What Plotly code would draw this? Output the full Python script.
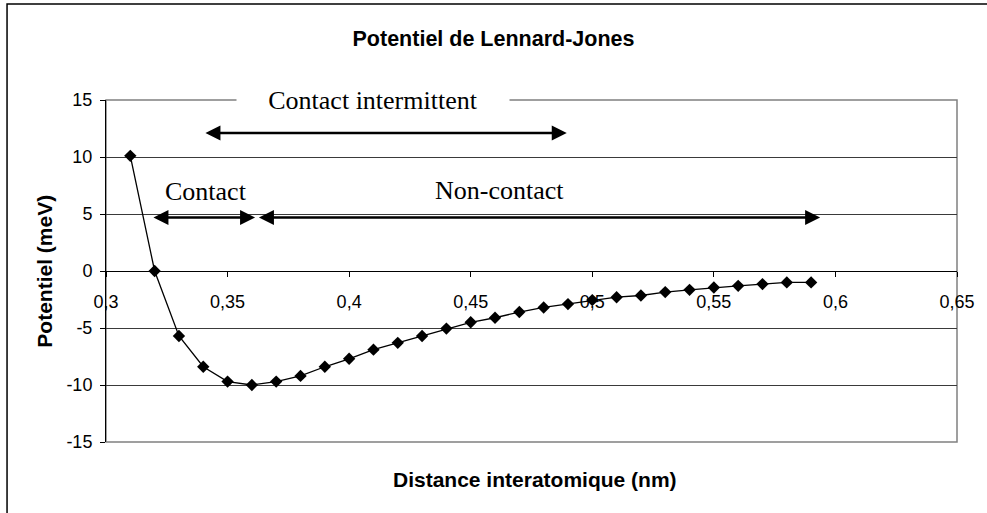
import plotly.graph_objects as go

# Lennard-Jones potential sampled every 0.01 nm
distance_nm = [0.31, 0.32, 0.33, 0.34, 0.35, 0.36, 0.37, 0.38, 0.39, 0.40,
               0.41, 0.42, 0.43, 0.44, 0.45, 0.46, 0.47, 0.48, 0.49, 0.50,
               0.51, 0.52, 0.53, 0.54, 0.55, 0.56, 0.57, 0.58, 0.59]
potential_mev = [10.1, 0.0, -5.7, -8.4, -9.7, -10.0, -9.7, -9.2, -8.4, -7.7,
                 -6.9, -6.3, -5.7, -5.05, -4.5, -4.1, -3.6, -3.2, -2.9, -2.55,
                 -2.3, -2.15, -1.85, -1.65, -1.45, -1.3, -1.15, -1.0, -1.0]

x_tick_values = [0.3, 0.35, 0.4, 0.45, 0.5, 0.55, 0.6, 0.65]
x_tick_labels = ["0,3", "0,35", "0,4", "0,45", "0,5", "0,55", "0,6", "0,65"]
y_tick_values = [-15, -10, -5, 0, 5, 10, 15]
y_tick_labels = ["-15", "-10", "-5", "0", "5", "10", "15"]

# Operating regimes of the AFM tip (distance ranges in nm)
regime_names = ["Contact", "Non-contact", "Contact intermittent"]
regime_start_nm = [0.3193, 0.3627, 0.3407]
regime_end_nm = [0.3613, 0.5937, 0.4895]
regime_arrow_mev = [4.7, 4.7, 12.1]
regime_label_nm = [0.341, 0.462, 0.4097]
regime_label_mev = [7.0, 7.1, 15.0]

SANS = "Liberation Sans, Arial, sans-serif"
SERIF = "Liberation Serif, Times New Roman, serif"

fig = go.Figure()
fig.add_trace(go.Scatter(
    x=distance_nm, y=potential_mev,
    mode="lines+markers",
    line=dict(color="black", width=1.3),
    marker=dict(symbol="diamond", size=9.5, color="black"),
    showlegend=False,
    cliponaxis=False,
))

annotations = []
for name, x0, x1, ya, lx, ly in zip(regime_names, regime_start_nm, regime_end_nm,
                                    regime_arrow_mev, regime_label_nm, regime_label_mev):
    # double-headed arrow spanning the regime
    annotations.append(dict(
        x=x1, y=ya, ax=x0, ay=ya, xref="x", yref="y", axref="x", ayref="y",
        text="", showarrow=True, arrowhead=2, startarrowhead=2,
        arrowside="end+start", arrowwidth=2.5, arrowsize=1.2, startarrowsize=1.2,
        arrowcolor="black", standoff=0, startstandoff=0, borderpad=0,
    ))
    label = dict(
        x=lx, y=ly, xref="x", yref="y", text=name, showarrow=False,
        font=dict(family=SERIF, size=26, color="black"),
        xanchor="center", yanchor="middle",
    )
    if name == "Contact intermittent":
        label.update(bgcolor="white", width=268, borderpad=2)
    annotations.append(label)

# axis titles
annotations.append(dict(
    x=0.5 + 4 / 860, y=(442 - 479) / 342, xref="paper", yref="paper",
    text="Distance interatomique (nm)", showarrow=False,
    font=dict(family=SANS, size=21, color="black", weight=700),
    xanchor="center", yanchor="middle",
))
annotations.append(dict(
    x=(43 - 106) / 860, y=0.5, xref="paper", yref="paper",
    text="Potentiel (meV)", showarrow=False, textangle=-90,
    font=dict(family=SANS, size=21, color="black", weight=700),
    xanchor="center", yanchor="middle",
))

shapes = [
    # plot area frame
    dict(type="rect", xref="paper", yref="paper", x0=0, x1=1, y0=0, y1=1,
         line=dict(color="#808080", width=1.5), layer="below"),
    # outer chart frame, running off the right and bottom edges
    dict(type="rect", xref="paper", yref="paper",
         x0=(6 - 106) / 860, x1=(1010 - 106) / 860,
         y0=(442 - 530) / 342, y1=(442 - 4) / 342,
         line=dict(color="black", width=1.5), layer="below"),
]

fig.update_layout(
    width=987, height=513,
    margin=dict(l=106, r=21, t=100, b=71),
    paper_bgcolor="white", plot_bgcolor="white",
    font=dict(family=SANS, size=18, color="black"),
    title=dict(text="Potentiel de Lennard-Jones", x=0.5, xanchor="center",
               y=1 - 38 / 513, yanchor="middle", yref="container",
               font=dict(family=SANS, size=21.5, color="black", weight=700)),
    xaxis=dict(
        range=[0.3, 0.65], tickvals=x_tick_values, ticktext=x_tick_labels,
        anchor="free", position=0.5,
        showline=True, linecolor="black", linewidth=1,
        ticks="outside", ticklen=5, tickcolor="black", tickwidth=1,
        ticklabelstandoff=9,
        showgrid=False, zeroline=False,
        tickfont=dict(family=SANS, size=18, color="black"),
    ),
    yaxis=dict(
        range=[-15, 15], tickvals=y_tick_values, ticktext=y_tick_labels,
        showline=True, linecolor="black", linewidth=1,
        ticks="outside", ticklen=5, tickcolor="black", tickwidth=1,
        ticklabelstandoff=4,
        showgrid=True, gridcolor="#3a3a3a", gridwidth=1, zeroline=False,
        tickfont=dict(family=SANS, size=18, color="black"),
    ),
    annotations=annotations,
    shapes=shapes,
)

fig.write_html("out.html")
